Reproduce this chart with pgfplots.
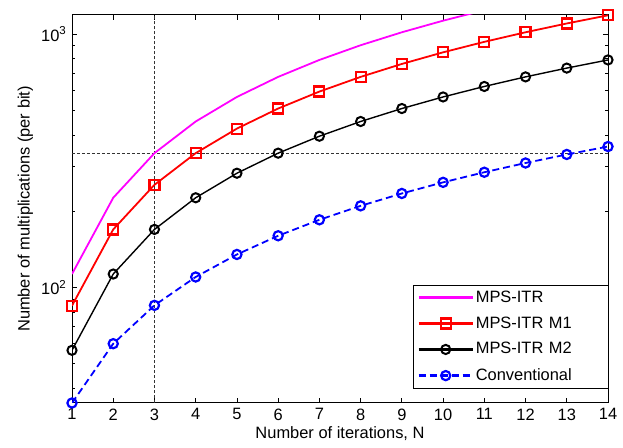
\documentclass[border=0pt]{standalone}
\usepackage{fontspec}
\setmainfont{Liberation Sans}
\usepackage{pgfplots}
\pgfplotsset{compat=1.18}
\begin{document}
\fontsize{16.5}{19}\selectfont
\begin{tikzpicture}
\begin{axis}[
  name=ax,
  scale only axis,
  width=536bp, height=388bp,
  ymode=log,
  xmin=1, xmax=14, ymin=35, ymax=1190,
  xtick={1,...,14},
  ytick={100,1000},
  yticklabels={10\textsuperscript{2},10\textsuperscript{3}},
  minor ytick={40,50,60,70,80,90,200,300,400,500,600,700,800,900},
  tick align=inside,
  major tick length=5bp,
  minor tick length=3bp,
  tick style={black, line width=0.8pt},
  axis line style={black, line width=1pt},
  /pgf/number format/assume math mode=true,
  tick label style={font=\fontsize{16.5}{19}\selectfont},
  label style={font=\fontsize{16.5}{19}\selectfont},
  xlabel={Number of iterations, N},
  ylabel={Number of multiplications (per bit)},
  xlabel style={yshift=5bp},
  ylabel style={yshift=-3bp},
  clip mode=individual,
  legend cell align=left,
  legend style={at={(rel axis cs:1,0.0387)}, anchor=south east,
    draw=black, font=\fontsize{16.5}{19}\selectfont,
    row sep=8bp, inner xsep=4bp, inner ysep=3bp,
    nodes={text width=126bp, align=left}},
  legend image code/.code={\draw[mark repeat=2,mark phase=2,#1,line width=2.2bp] plot coordinates {(0bp,0bp) (27bp,0bp) (54bp,0bp)};},
]
\addplot[black!80, densely dashed, line width=0.8pt, forget plot] coordinates {(3,35) (3,1190)};
\addplot[black!80, densely dashed, line width=0.8pt, forget plot] coordinates {(1,339) (14,339)};
\addplot[color={rgb,1:red,1;green,0;blue,1}, line width=1.8pt] coordinates {
(1,113) (2,226) (3,339) (4,452) (5,565) (6,678) (7,791) (8,904) (9,1017) (10,1130) (11,1243)};
\addlegendentry{MPS-ITR}
\addplot[red, line width=1.8pt, mark=square, mark size=5bp, mark options={line width=2.2pt, solid}] coordinates {
(1,84.75) (2,169.5) (3,254.25) (4,339) (5,423.75) (6,508.5) (7,593.25) (8,678) (9,762.75) (10,847.5) (11,932.25) (12,1017) (13,1101.75) (14,1186.5)};
\addlegendentry{MPS-ITR M1}
\addplot[black, line width=1.4pt, mark=o, mark size=4.6bp, mark options={line width=2.0pt, solid}] coordinates {
(1,56.5) (2,113) (3,169.5) (4,226) (5,282.5) (6,339) (7,395.5) (8,452) (9,508.5) (10,565) (11,621.5) (12,678) (13,734.5) (14,791)};
\addlegendentry{MPS-ITR M2}
\addplot[blue, line width=1.8pt, dash pattern=on 7bp off 4bp, mark=o, mark size=4.6bp, mark options={line width=2.2pt, solid}] coordinates {
(1,35) (2,60) (3,85) (4,110) (5,135) (6,160) (7,185) (8,210) (9,235) (10,260) (11,285) (12,310) (13,335) (14,360)};
\addlegendentry{Conventional}
\end{axis}
\path (ax.south west) ++(-72bp,-45bp) coordinate (bbA);
\path (ax.north east) ++(15bp,15bp) coordinate (bbB);
\pgfresetboundingbox
\useasboundingbox (bbA) rectangle (bbB);
\end{tikzpicture}
\end{document}
